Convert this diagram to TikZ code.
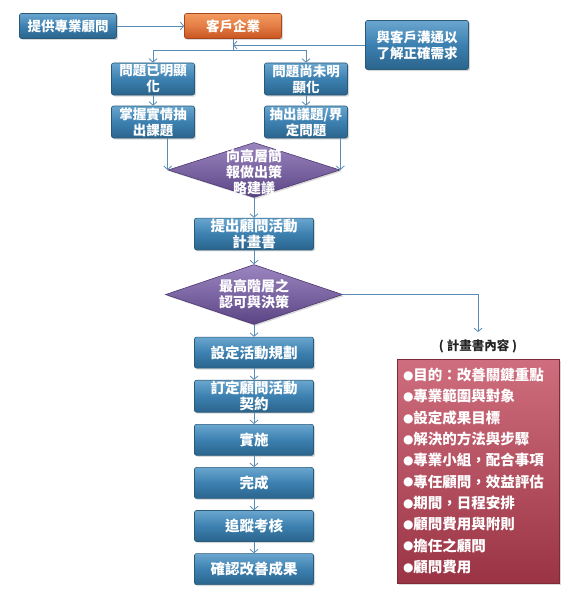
\documentclass[tikz,border=0pt]{standalone}
\usepackage{fontspec}
\setmainfont{Noto Sans CJK TC}
\newfontfamily\symfont{DejaVu Sans}
\usetikzlibrary{arrows.meta,positioning,shapes.geometric,shadows}

\definecolor{linkblue}{HTML}{5A8CB6}
\definecolor{blutop}{HTML}{6AA6CF}
\definecolor{blumid}{HTML}{3C80B0}
\definecolor{blubot}{HTML}{2A648C}
\definecolor{bluedge}{HTML}{285A7A}
\definecolor{orgtop}{HTML}{F39A5E}
\definecolor{orgbot}{HTML}{C9531F}
\definecolor{orgedge}{HTML}{A8461C}
\definecolor{purtop}{HTML}{9C86C0}
\definecolor{purbot}{HTML}{5B4484}
\definecolor{puredge}{HTML}{4C3870}
\definecolor{redtop}{HTML}{CF6E7E}
\definecolor{redbot}{HTML}{9A3445}
\definecolor{rededge}{HTML}{7E2A38}
\definecolor{headgray}{HTML}{222222}
\newcommand{\itemdot}{\raisebox{1.2pt}{\fontsize{12}{12}\symfont ●}}

\begin{document}
\begin{tikzpicture}[x=1pt, y=-1pt, node distance=11.5pt, >={Straight Barb[length=3.5pt,width=8pt]},
  every node/.style={text=white, align=center, font=\fontsize{13.5}{16}\selectfont\bfseries},
  box/.style={draw=bluedge, line width=0.6pt, rounded corners=2pt, top color=blutop, bottom color=blubot, middle color=blumid, inner sep=1pt, drop shadow={opacity=0.3, shadow xshift=1.5pt, shadow yshift=-1.5pt}},
  small/.style={box, minimum width=83pt, minimum height=32pt},
  stepbox/.style={box, minimum width=119pt, minimum height=31pt, font=\fontsize{14.5}{16}\selectfont\bfseries},
  firm/.style={box, draw=orgedge, top color=orgtop, bottom color=orgbot, middle color=orgtop!60!orgbot, minimum width=97pt, minimum height=25pt},
  decision/.style={diamond, draw=puredge, line width=0.6pt, top color=purtop, bottom color=purbot, inner sep=0pt, drop shadow={opacity=0.3, shadow xshift=1.5pt, shadow yshift=-1.5pt}},
  dtext/.style={font=\fontsize{14}{16}\selectfont\bfseries},
  notebox/.style={draw=rededge, line width=0.6pt, top color=redtop, bottom color=redbot, text width=150pt, align=left, inner xsep=6pt, minimum height=224pt, font=\fontsize{14.5}{21.3}\selectfont\bfseries, drop shadow={opacity=0.3, shadow xshift=1.5pt, shadow yshift=-1.5pt}},
  link/.style={draw=linkblue, line width=0.8pt}]
\useasboundingbox (0,0) rectangle (567,594);
% top row
\node[box, minimum width=97pt, minimum height=25pt] (provide) at (68,26) {提供專業顧問};
\node[firm] (client) at (233,26) {客戶企業};
\node[box, minimum width=103pt, minimum height=49pt] (talk) at (417,45) {與客戶溝通以\\了解正確需求};
% two branches
\node[small] (known) at (153,79) {問題已明顯\\化};
\node[small] (unknown) at (306,79) {問題尚未明\\顯化};
\node[small] (grasp) at (153,122) {掌握實情抽\\出課題};
\node[small] (define) at (306,122) {抽出議題/界\\定問題};
% main chain
\node[decision, minimum width=172pt, minimum height=55pt] (brief) at (254,170) {};
\node[dtext] at ([yshift=-2pt]brief.center) {向高層簡\\報做出策\\略建議};
\node[stepbox, below=20pt of brief] (plan) {提出顧問活動\\計畫書};
\node[decision, minimum width=177pt, minimum height=60pt, below=14pt of plan] (decide) {};
\node[dtext] at (decide.center) {最高階層之\\認可與決策};
\node[stepbox, below=12pt of decide] (setup) {設定活動規劃};
\node[stepbox, below=of setup] (contract) {訂定顧問活動\\契約};
\node[stepbox, below=of contract] (carry) {實施};
\node[stepbox, below=of carry] (finish) {完成};
\node[stepbox, below=of finish] (track) {追蹤考核};
\node[stepbox, below=of track] (confirm) {確認改善成果};
% plan contents
\node[text=headgray, inner xsep=1pt, inner ysep=7pt, font=\fontsize{12.5}{14}\selectfont\bfseries] (notehead) at (478,346) {( 計畫書內容 )};
\node[notebox] (content) at (478,471) {\itemdot 目的：改善關鍵重點\\\itemdot 專業範圍與對象\\\itemdot 設定成果目標\\\itemdot 解決的方法與步驟\\\itemdot 專業小組，配合事項\\\itemdot 專任顧問，效益評估\\\itemdot 期間，日程安排\\\itemdot 顧問費用與附則\\\itemdot 擔任之顧問\\\itemdot 顧問費用};
% connectors
\draw[link,->] (provide) -- (client);
\draw[link,->] (talk.west) -- (talk.west -| client.south);
\draw[link] (client.south) -- ++(0,12) coordinate (fork);
\draw[link,->] (fork) -| (known.north);
\draw[link,->] (fork) -| (unknown.north);
\draw[link,->] (known) -- (grasp);
\draw[link,->] (unknown) -- (define);
\draw[link,->] (grasp.south -| brief.west) -- (brief.west);
\draw[link,->] (define.south -| brief.east) -- (brief.east);
\draw[link,->] (brief) -- (plan);
\draw[link,->] (plan) -- (decide);
\draw[link,->] (decide.east) -| (notehead.north);
\draw[link,->] (decide) -- (setup);
\draw[link,->] (setup) -- (contract);
\draw[link,->] (contract) -- (carry);
\draw[link,->] (carry) -- (finish);
\draw[link,->] (finish) -- (track);
\draw[link,->] (track) -- (confirm);
\end{tikzpicture}
\end{document}
